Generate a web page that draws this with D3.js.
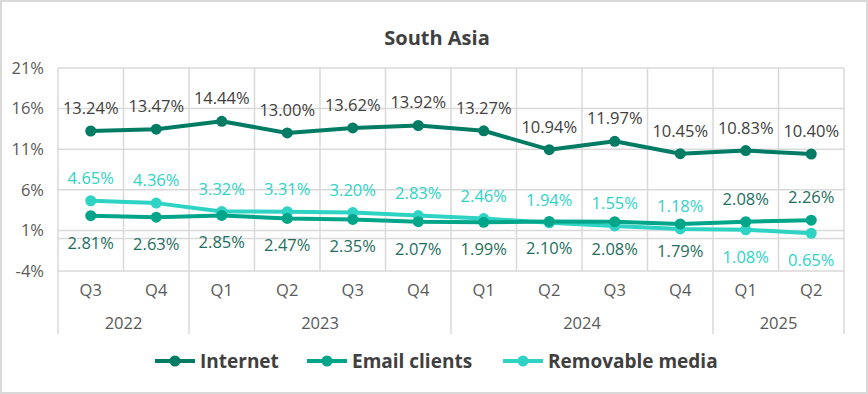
<!DOCTYPE html>
<html><head><meta charset="utf-8">
<script src="https://cdn.jsdelivr.net/npm/d3@7"></script>
<style>
html,body{margin:0;padding:0;background:#fff;}
svg{display:block;}
</style></head>
<body><svg id="c" width="868" height="394"></svg>
<script>
const title = "South Asia";
const quarters = ["Q3","Q4","Q1","Q2","Q3","Q4","Q1","Q2","Q3","Q4","Q1","Q2"];
const years = ["2022","2023","2024","2025"];
const yearSpans = [2,4,4,2];
const categories = quarters.map((q,i)=>i);
const internet = [13.24,13.47,14.44,13.00,13.62,13.92,13.27,10.94,11.97,10.45,10.83,10.40];
const emailClients = [2.81,2.63,2.85,2.47,2.35,2.07,1.99,2.10,2.08,1.79,2.08,2.26];
const removableMedia = [4.65,4.36,3.32,3.31,3.20,2.83,2.46,1.94,1.55,1.18,1.08,0.65];
const yTicks = [-4,1,6,11,16,21];
const seriesNames = ["Internet","Email clients","Removable media"];

const colors = ["#007C65","#00A58A","#2ED3C4"];
const labelColors = ["#404040","#1E6E5D","#2ED3C4"];
// label placement: -1 above, +1 below
const emailPos = emailClients.map((v,i)=> i>=10 ? -1 : 1);
const remPos = removableMedia.map((v,i)=> i>=10 ? 1 : -1);

const svg = d3.select("#c");
const font = "'Open Sans', 'Noto Sans', sans-serif";
svg.append("rect").attr("x",1).attr("y",1).attr("width",866).attr("height",392)
  .attr("fill","#fff").attr("stroke","#d9d9d9").attr("stroke-width",2);

svg.append("text").attr("x",437).attr("y",45).attr("text-anchor","middle")
  .attr("font-family",font).attr("font-weight","bold").attr("font-size",20)
  .attr("fill","#404040").text(title);

const L=58, R=844, T=68, B=271;
const x = d3.scaleBand().domain(categories).range([L,R]).padding(0);
const y = d3.scaleLinear().domain([-4,21]).range([B,T]);
const grid = "#d9d9d9";

const g = svg.append("g");
g.selectAll("line.h").data(yTicks).join("line")
  .attr("x1",L).attr("x2",R).attr("y1",d=>y(d)).attr("y2",d=>y(d))
  .attr("stroke",grid).attr("stroke-width",1.5);
g.append("line").attr("x1",L).attr("x2",R).attr("y1",y(0)).attr("y2",y(0))
  .attr("stroke",grid).attr("stroke-width",1.5);
const bounds = categories.map(c=>x(c)).concat([R]);
g.selectAll("line.v").data(bounds).join("line")
  .attr("x1",d=>d).attr("x2",d=>d).attr("y1",T).attr("y2",B)
  .attr("stroke",grid).attr("stroke-width",1.5);

const yAxis = d3.axisLeft(y).tickValues(yTicks).tickSize(0).tickPadding(14).tickFormat(d=>d+"%");
const ya = svg.append("g").attr("transform",`translate(${L},0)`).call(yAxis);
ya.select(".domain").remove();
ya.selectAll("text").attr("font-family",font).attr("font-size",16.5).attr("fill","#595959");

const xAxis = d3.axisBottom(x).tickSize(0).tickPadding(13).tickFormat(i=>quarters[i]);
const xa = svg.append("g").attr("transform",`translate(0,${B})`).call(xAxis);
xa.select(".domain").remove();
xa.selectAll("text").attr("font-family",font).attr("font-size",16.5).attr("fill","#595959");

let start=0;
const groupB = [];
years.forEach((yr,k)=>{
  const s = start, e = start+yearSpans[k]-1;
  const x0 = x(s), x1 = x(e)+x.bandwidth();
  groupB.push(x0);
  svg.append("text").attr("x",(x0+x1)/2).attr("y",329).attr("text-anchor","middle")
    .attr("font-family",font).attr("font-size",16.5).attr("fill","#595959").text(yr);
  start += yearSpans[k];
});
groupB.push(R);
svg.selectAll("line.gb").data(groupB).join("line")
  .attr("x1",d=>d).attr("x2",d=>d).attr("y1",B).attr("y2",334)
  .attr("stroke",grid).attr("stroke-width",1.5);

const cx = i => x(i)+x.bandwidth()/2;
const line = d3.line().x((d,i)=>cx(i)).y(d=>y(d));
const series = [internet, emailClients, removableMedia];
[2,1,0].forEach(k=>{
  const data = series[k];
  const gs = svg.append("g");
  gs.append("path").attr("d",line(data)).attr("fill","none")
    .attr("stroke",colors[k]).attr("stroke-width",4).attr("stroke-linejoin","round");
  gs.selectAll("circle").data(data).join("circle")
    .attr("cx",(d,i)=>cx(i)).attr("cy",d=>y(d)).attr("r",5.5).attr("fill",colors[k]);
});
series.forEach((data,k)=>{
  svg.append("g").selectAll("text").data(data).join("text")
    .attr("x",(d,i)=>cx(i))
    .attr("y",(d,i)=>{
      let pos = k===0 ? -1 : (k===1 ? emailPos[i] : remPos[i]);
      return pos<0 ? y(d)-17 : y(d)+33;
    })
    .attr("text-anchor","middle").attr("font-family",font).attr("font-size",16.5)
    .attr("fill",labelColors[k]).text(d=>d.toFixed(2)+"%");
});

const legX = [155, 307, 503];
seriesNames.forEach((n,k)=>{
  const lg = svg.append("g").attr("transform",`translate(${legX[k]},361)`);
  lg.append("line").attr("x1",0).attr("x2",40).attr("y1",0).attr("y2",0)
    .attr("stroke",colors[k]).attr("stroke-width",4);
  lg.append("circle").attr("cx",20).attr("cy",0).attr("r",5.5).attr("fill",colors[k]);
  lg.append("text").attr("x",45).attr("y",7).attr("font-family",font)
    .attr("font-weight","bold").attr("font-size",19).attr("fill","#404040").text(n);
});
</script></body></html>
